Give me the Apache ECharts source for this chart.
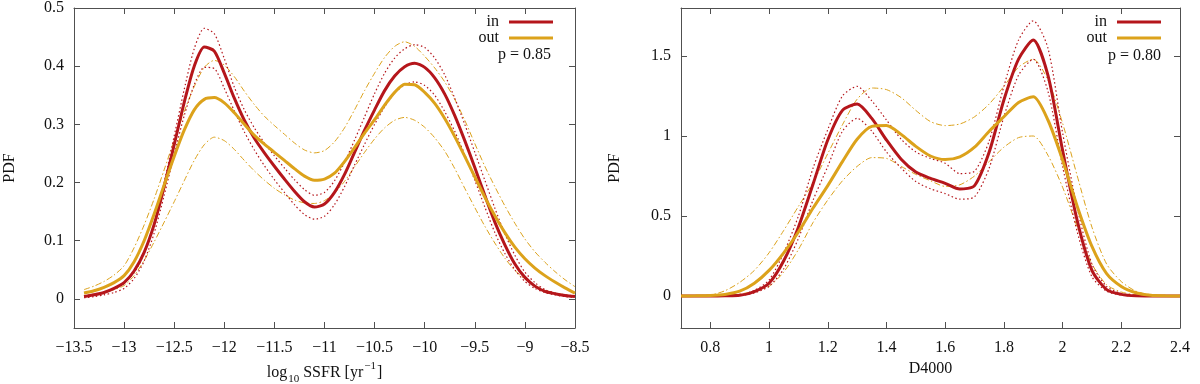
<!DOCTYPE html>
<html>
<head>
<meta charset="utf-8">
<script src="https://cdn.jsdelivr.net/npm/echarts@6/dist/echarts.min.js"></script>
<style>
  html, body { margin: 0; padding: 0; background: #fff; }
  #chart { width: 1200px; height: 384px; }
</style>
</head>
<body>
<div id="chart"></div>
<script>
// left panel: log10 SSFR
const ssfrX = [-13.4, -13.3, -13.2, -13.1, -13.0, -12.9, -12.8, -12.7, -12.6, -12.5,
  -12.4, -12.3, -12.2, -12.1, -12.0, -11.9, -11.8, -11.7, -11.6, -11.5,
  -11.4, -11.3, -11.2, -11.1, -11.0, -10.9, -10.8, -10.7, -10.6, -10.5,
  -10.4, -10.3, -10.2, -10.1, -10.0, -9.9, -9.8, -9.7, -9.6, -9.5,
  -9.4, -9.3, -9.2, -9.1, -9.0, -8.9, -8.8, -8.7, -8.6, -8.5]
const ssfrIn = [0.004, 0.007, 0.011, 0.018, 0.028, 0.048, 0.08, 0.128, 0.193, 0.265,
  0.338, 0.400, 0.433, 0.426, 0.388, 0.345, 0.307, 0.276, 0.251, 0.228,
  0.206, 0.185, 0.167, 0.158, 0.163, 0.183, 0.214, 0.252, 0.29, 0.325,
  0.358, 0.383, 0.399, 0.405, 0.398, 0.38, 0.352, 0.315, 0.272, 0.226,
  0.178, 0.132, 0.093, 0.06, 0.037, 0.022, 0.013, 0.009, 0.006, 0.004]
const ssfrInHi = [0.005, 0.008, 0.012, 0.018, 0.027, 0.045, 0.078, 0.13, 0.2, 0.28,
  0.36, 0.43, 0.465, 0.456, 0.413, 0.364, 0.325, 0.294, 0.268, 0.246,
  0.225, 0.205, 0.188, 0.178, 0.183, 0.203, 0.235, 0.273, 0.313, 0.353,
  0.388, 0.414, 0.43, 0.437, 0.432, 0.414, 0.385, 0.345, 0.3, 0.252,
  0.204, 0.156, 0.112, 0.075, 0.046, 0.028, 0.016, 0.01, 0.007, 0.005]
const ssfrInLo = [0.002, 0.004, 0.007, 0.011, 0.018, 0.035, 0.065, 0.113, 0.178, 0.248,
  0.315, 0.368, 0.398, 0.396, 0.362, 0.323, 0.287, 0.256, 0.229, 0.205,
  0.183, 0.162, 0.145, 0.137, 0.142, 0.162, 0.193, 0.23, 0.266, 0.3,
  0.33, 0.354, 0.368, 0.373, 0.367, 0.35, 0.322, 0.288, 0.248, 0.204,
  0.158, 0.114, 0.078, 0.05, 0.03, 0.018, 0.011, 0.007, 0.004, 0.003]
const ssfrOut = [0.010, 0.014, 0.02, 0.028, 0.04, 0.064, 0.1, 0.146, 0.196, 0.245,
  0.29, 0.325, 0.343, 0.346, 0.337, 0.32, 0.3, 0.281, 0.266, 0.252,
  0.238, 0.224, 0.211, 0.204, 0.206, 0.216, 0.236, 0.26, 0.285, 0.308,
  0.333, 0.355, 0.369, 0.368, 0.355, 0.336, 0.31, 0.279, 0.245, 0.21,
  0.175, 0.143, 0.114, 0.089, 0.069, 0.053, 0.04, 0.029, 0.019, 0.01]
const ssfrOutHi = [0.016, 0.022, 0.03, 0.041, 0.057, 0.088, 0.127, 0.172, 0.222, 0.273,
  0.322, 0.365, 0.398, 0.41, 0.402, 0.382, 0.357, 0.334, 0.314, 0.298,
  0.283, 0.268, 0.256, 0.251, 0.255, 0.27, 0.294, 0.325, 0.358, 0.388,
  0.415, 0.434, 0.442, 0.434, 0.417, 0.397, 0.373, 0.343, 0.307, 0.267,
  0.228, 0.193, 0.16, 0.13, 0.103, 0.081, 0.063, 0.047, 0.033, 0.021]
const ssfrOutLo = [0.005, 0.008, 0.011, 0.016, 0.023, 0.04, 0.066, 0.098, 0.132, 0.167,
  0.203, 0.238, 0.265, 0.278, 0.272, 0.257, 0.238, 0.22, 0.204, 0.19,
  0.179, 0.17, 0.165, 0.164, 0.169, 0.182, 0.202, 0.227, 0.252, 0.275,
  0.294, 0.307, 0.312, 0.307, 0.295, 0.277, 0.254, 0.224, 0.19, 0.157,
  0.125, 0.096, 0.07, 0.049, 0.034, 0.023, 0.015, 0.01, 0.007, 0.005]

// right panel: D4000
const d4000X = [0.7, 0.75, 0.8, 0.85, 0.9, 0.95, 1.0, 1.05, 1.1, 1.15,
  1.2, 1.25, 1.3, 1.35, 1.4, 1.45, 1.5, 1.55, 1.6, 1.65,
  1.7, 1.75, 1.8, 1.85, 1.9, 1.95, 2.0, 2.05, 2.1, 2.15,
  2.2, 2.25, 2.3, 2.35, 2.4]
const d4000In = [0, 0, 0, 0.001, 0.004, 0.028, 0.08, 0.22, 0.43, 0.70,
  0.975, 1.16, 1.2, 1.11, 0.975, 0.855, 0.775, 0.735, 0.704, 0.668,
  0.69, 0.90, 1.225, 1.48, 1.60, 1.38, 0.91, 0.47, 0.16, 0.04,
  0.01, 0.001, 0, 0, 0]
const d4000InHi = [0, 0, 0, 0.001, 0.006, 0.035, 0.1, 0.27, 0.5, 0.8,
  1.04, 1.25, 1.31, 1.22, 1.1, 0.98, 0.9, 0.86, 0.83, 0.765,
  0.78, 0.97, 1.31, 1.6, 1.72, 1.55, 1.02, 0.55, 0.2, 0.06,
  0.015, 0.002, 0, 0, 0]
const d4000InLo = [0, 0, 0, 0, 0.003, 0.02, 0.06, 0.17, 0.36, 0.6,
  0.81, 1.03, 1.11, 1.03, 0.9, 0.8, 0.715, 0.67, 0.64, 0.605,
  0.62, 0.8, 1.12, 1.38, 1.48, 1.28, 0.81, 0.4, 0.12, 0.03,
  0.006, 0, 0, 0, 0]
const d4000Out = [0, 0.001, 0.003, 0.01, 0.03, 0.08, 0.16, 0.27, 0.4, 0.55,
  0.69, 0.84, 0.98, 1.06, 1.065, 1.01, 0.935, 0.875, 0.853, 0.87,
  0.93, 1.03, 1.12, 1.21, 1.245, 1.1, 0.85, 0.56, 0.31, 0.14,
  0.06, 0.02, 0.004, 0.001, 0]
const d4000OutHi = [0.001, 0.003, 0.006, 0.033, 0.085, 0.16, 0.27, 0.41, 0.56, 0.71,
  0.89, 1.07, 1.23, 1.30, 1.29, 1.24, 1.16, 1.09, 1.065, 1.075,
  1.12, 1.2, 1.31, 1.43, 1.48, 1.35, 1.08, 0.75, 0.43, 0.2,
  0.09, 0.03, 0.008, 0.002, 0]
const d4000OutLo = [0, 0, 0.001, 0.004, 0.012, 0.03, 0.06, 0.15, 0.29, 0.46,
  0.6, 0.72, 0.81, 0.865, 0.86, 0.81, 0.76, 0.72, 0.685, 0.695,
  0.75, 0.84, 0.93, 0.99, 1.0, 0.88, 0.68, 0.43, 0.2, 0.07,
  0.025, 0.007, 0.001, 0, 0]

// tick positions
const ssfrYTicks = [0, 0.1, 0.2, 0.3, 0.4, 0.5]
const d4000XTicks = [0.8, 1.0, 1.2, 1.4, 1.6, 1.8, 2.0, 2.2, 2.4]
const d4000YTicks = [0, 0.5, 1, 1.5]

const RED = '#b5161b'
const GOLD = '#dca21b'
const FONT = '"Liberation Serif", "DejaVu Serif", serif'
const AXIS_COLOR = '#505050'

const pairs = (xs, ys) => xs.map((x, i) => [x, ys[i]])
const minus = (v) => String(v).replace('-', '\u2212')

const labelStyle = {color: '#111', fontFamily: FONT, fontSize: 16}

function ticks(values) {
  const t = {show: true, inside: true, length: 6, lineStyle: {color: AXIS_COLOR}}
  if (values) t.customValues = values
  return t
}

function axisBase(extra) {
  return Object.assign({
    type: 'value',
    axisLine: {show: true, onZero: false, lineStyle: {color: AXIS_COLOR, width: 1}},
    axisTick: ticks(),
    splitLine: {show: false},
    axisLabel: Object.assign({show: true}, labelStyle),
  }, extra)
}

function line(name, xs, ys, xi, kind, color) {
  const styles = {
    solid: {width: 3, type: 'solid'},
    dot: {width: 1.2, type: [1.5, 2.5]},
    dashdot: {width: 1, type: [6, 2.5, 1.5, 2.5]},
  }
  return {
    name: name,
    type: 'line',
    xAxisIndex: xi,
    yAxisIndex: xi,
    data: pairs(xs, ys),
    smooth: 0.25,
    symbol: 'none',
    color: color,
    lineStyle: Object.assign({color: color}, styles[kind]),
    z: kind === 'solid' ? 3 : 2,
    silent: true,
  }
}

const chart = echarts.init(document.getElementById('chart'))

const options = {
  animation: false,
  backgroundColor: '#fff',
  grid: [
    {left: 74, right: 625, top: 8, bottom: 56, outerBoundsMode: 'none', containLabel: false},
    {left: 681, right: 20, top: 8, bottom: 56, outerBoundsMode: 'none', containLabel: false},
  ],
  xAxis: [
    axisBase({
      gridIndex: 0, position: 'bottom', min: -13.5, max: -8.5, interval: 0.5,
      axisLabel: Object.assign({margin: 12, formatter: minus}, labelStyle),
      name: '{t|log}{sub|10}{t| SSFR [yr}{sup|\u22121}{t|]}',
      nameLocation: 'middle', nameGap: 28,
      nameTextStyle: {
        rich: {
          t: {fontFamily: FONT, fontSize: 16, color: '#111', lineHeight: 24, verticalAlign: 'middle'},
          sub: {fontFamily: FONT, fontSize: 11, color: '#111', lineHeight: 24, verticalAlign: 'bottom', padding: [0, 0, 0, 1]},
          sup: {fontFamily: FONT, fontSize: 11, color: '#111', lineHeight: 24, verticalAlign: 'top', padding: [0, 1, 0, 1]},
        },
      },
    }),
    axisBase({
      gridIndex: 0, position: 'top', min: -13.5, max: -8.5, interval: 0.5,
      axisLabel: {show: false},
    }),
    axisBase({
      gridIndex: 1, position: 'bottom', min: 0.7, max: 2.4,
      axisTick: ticks(d4000XTicks),
      axisLabel: Object.assign({margin: 12, customValues: d4000XTicks}, labelStyle),
      name: 'D4000', nameLocation: 'middle', nameGap: 31,
      nameTextStyle: {fontFamily: FONT, fontSize: 16, color: '#111'},
    }),
    axisBase({
      gridIndex: 1, position: 'top', min: 0.7, max: 2.4,
      axisTick: ticks(d4000XTicks),
      axisLabel: {show: false},
    }),
  ],
  yAxis: [
    axisBase({
      gridIndex: 0, position: 'left', min: -0.05, max: 0.5,
      axisTick: ticks(ssfrYTicks),
      axisLabel: Object.assign({margin: 10, customValues: ssfrYTicks}, labelStyle),
      name: 'PDF', nameLocation: 'middle', nameGap: 56, nameRotate: 90,
      nameTextStyle: {fontFamily: FONT, fontSize: 16, color: '#111'},
    }),
    axisBase({
      gridIndex: 0, position: 'right', min: -0.05, max: 0.5,
      axisTick: ticks(ssfrYTicks),
      axisLabel: {show: false},
    }),
    axisBase({
      gridIndex: 1, position: 'left', min: -0.2, max: 1.8,
      axisTick: ticks(d4000YTicks),
      axisLabel: Object.assign({margin: 10, customValues: d4000YTicks}, labelStyle),
      name: 'PDF', nameLocation: 'middle', nameGap: 58, nameRotate: 90,
      nameTextStyle: {fontFamily: FONT, fontSize: 16, color: '#111'},
    }),
    axisBase({
      gridIndex: 1, position: 'right', min: -0.2, max: 1.8,
      axisTick: ticks(d4000YTicks),
      axisLabel: {show: false},
    }),
  ],
  legend: [
    {
      data: ['in', 'out'], orient: 'vertical', align: 'right',
      right: 647, top: 14, padding: 0, itemGap: 0,
      icon: 'rect', itemWidth: 44, itemHeight: 3, selectedMode: false,
      textStyle: {fontFamily: FONT, fontSize: 16, color: '#111', lineHeight: 16, padding: [0, 5, 0, 0]},
    },
    {
      data: ['in', 'out'], orient: 'vertical', align: 'right',
      right: 39, top: 14, padding: 0, itemGap: 0,
      icon: 'rect', itemWidth: 44, itemHeight: 3, selectedMode: false,
      textStyle: {fontFamily: FONT, fontSize: 16, color: '#111', lineHeight: 16, padding: [0, 5, 0, 0]},
    },
  ],
  graphic: [
    {type: 'text', x: 551, y: 55, style: {text: 'p = 0.85', fill: '#111', font: '16px ' + FONT, align: 'right', verticalAlign: 'middle'}},
    {type: 'text', x: 1161, y: 56, style: {text: 'p = 0.80', fill: '#111', font: '16px ' + FONT, align: 'right', verticalAlign: 'middle'}},
  ],
  series: [
    line('out +', ssfrX, ssfrOutHi, 0, 'dashdot', GOLD),
    line('out -', ssfrX, ssfrOutLo, 0, 'dashdot', GOLD),
    line('in +', ssfrX, ssfrInHi, 0, 'dot', RED),
    line('in -', ssfrX, ssfrInLo, 0, 'dot', RED),
    line('in', ssfrX, ssfrIn, 0, 'solid', RED),
    line('out', ssfrX, ssfrOut, 0, 'solid', GOLD),

    line('out +', d4000X, d4000OutHi, 2, 'dashdot', GOLD),
    line('out -', d4000X, d4000OutLo, 2, 'dashdot', GOLD),
    line('in +', d4000X, d4000InHi, 2, 'dot', RED),
    line('in -', d4000X, d4000InLo, 2, 'dot', RED),
    line('in', d4000X, d4000In, 2, 'solid', RED),
    line('out', d4000X, d4000Out, 2, 'solid', GOLD),
  ],
}
options && chart.setOption(options)
</script>
</body>
</html>
